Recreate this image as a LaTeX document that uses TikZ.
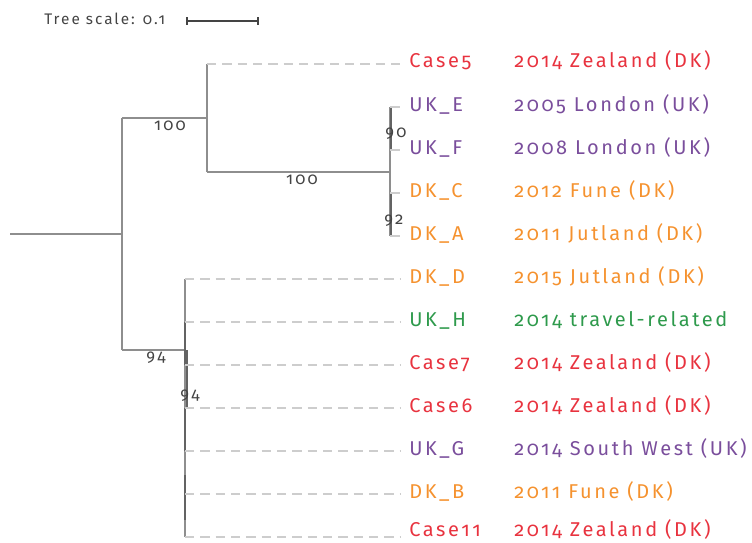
\documentclass[tikz,border=0pt]{standalone}
\usepackage{fontspec}
\setmainfont{Fira Sans}[Numbers=OldStyle, LetterSpace=13]
\definecolor{cred}{HTML}{E8333F}
\definecolor{cpur}{HTML}{7A4E9C}
\definecolor{corg}{HTML}{F5922F}
\definecolor{cgrn}{HTML}{2E9A4C}
\definecolor{branch}{HTML}{8E8E8E}
\definecolor{dashc}{HTML}{CDCDCD}
\definecolor{lbl}{HTML}{444444}
\tikzset{
  br/.style={draw=branch, line width=1.2pt},
  brdark/.style={draw=branch!70!black, line width=1.3pt},
  leafdash/.style={draw=dashc, line width=1pt, dash pattern=on 7pt off 4.5pt},
  stub/.style={draw=dashc, line width=1pt},
  leafname/.style={anchor=base west, font=\fontsize{15}{17}\selectfont, inner sep=0pt},
  leafplace/.style={anchor=base west, font=\fontsize{15}{17}\selectfont, inner sep=0pt},
  boot/.style={font=\fontsize{12.5}{14}\selectfont, text=lbl, inner sep=0pt},
}
\begin{document}
\begin{tikzpicture}[x=0.75pt,y=-0.75pt]
\useasboundingbox (0,0) rectangle (752,542);
% scale
\node[anchor=west, inner sep=0pt, text=lbl, font=\fontsize{11.5}{13}\selectfont] (ts) at (44,19) {Tree scale: 0.1};
\coordinate (s1) at (187,21); \coordinate (s2) at (258,21);
\draw[draw=lbl, line width=0.8pt] (s1) -- (s2);
\draw[draw=lbl, line width=0.8pt] ([yshift=-3pt]s1) -- ([yshift=3pt]s1);
\draw[draw=lbl, line width=0.8pt] ([yshift=-3pt]s2) -- ([yshift=3pt]s2);
% internal nodes
\coordinate (root) at (10,234);
\coordinate (n1) at (122,234);
\coordinate (n1t) at (122,118);
\coordinate (n1b) at (122,350);
\coordinate (n2) at (207,118);
\coordinate (n2t) at (207,64);
\coordinate (n2b) at (207,172);
\coordinate (n3) at (390,172);
\coordinate (n3t) at (390,107);
\coordinate (n3b) at (390,236);
\coordinate (n4) at (185,350);
\coordinate (n4t) at (185,279);
\coordinate (n4b) at (185,537);
% leaf tips
\foreach \i/\y in {1/64,2/107,3/150,4/193,5/236,6/279,7/322,8/365,9/408,10/451,11/494,12/537}{
  \coordinate (t\i) at (400,\y);
}
% branches
\draw[br] (root) -- (n1);
\draw[br] (n1t) -- (n1b);
\draw[br] (n1t) -- (n2);
\draw[br] (n2t) -- (n2b);
\draw[br] (n2b) -- (n3);
\draw[br] (n3t) -- (n3b);
\draw[br] (n1b) -- (n4);
\draw[br] (n4t) -- (n4b);
\draw[brdark] (391,107) -- (391,150);
\draw[brdark] (391,193) -- (391,236);
\draw[brdark] (185,322) -- (185,365);
\draw[brdark] (187,350) -- (187,408);
\draw[brdark] (185,408) -- (185,451);
\draw[brdark] (185,475) -- (185,520);
% dashed / stub leaves
\draw[leafdash] (n2t) -- (t1);
\draw[stub] (n3t) -- (t2);
\draw[stub] (390,150) -- (t3);
\draw[stub] (390,193) -- (t4);
\draw[stub] (n3b) -- (t5);
\foreach \i/\y in {6/279,7/322,8/365,9/408,10/451,11/494,12/537}{
  \draw[leafdash] (185,\y) -- (t\i);
}
% bootstrap labels
\node[boot] (b1) at (170,126) {100};
\node[boot] (b2) at (302,180) {100};
\node[boot] (b3) at (396,134) {90};
\node[boot] (b4) at (394,221) {92};
\node[boot] (b5) at (156,358) {94};
\node[boot] (b6) at (190,396) {94};
% leaf labels
\foreach \i/\y/\n/\p/\c in {
  1/68/Case5/2014 Zealand (DK)/cred,
  2/111/UK\_E/2005 London (UK)/cpur,
  3/154/UK\_F/2008 London (UK)/cpur,
  4/197/DK\_C/2012 Fune (DK)/corg,
  5/240/DK\_A/2011 Jutland (DK)/corg,
  6/283/DK\_D/2015 Jutland (DK)/corg,
  7/326/UK\_H/2014 travel-related/cgrn,
  8/369/Case7/2014 Zealand (DK)/cred,
  9/412/Case6/2014 Zealand (DK)/cred,
  10/455/UK\_G/2014 South West (UK)/cpur,
  11/498/DK\_B/2011 Fune (DK)/corg,
  12/536/Case11/2014 Zealand (DK)/cred}{
  \node[leafname, text=\c] (l\i) at (409,\y) {\n};
  \node[leafplace, text=\c] (p\i) at (514,\y) {\p};
}
\end{tikzpicture}
\end{document}
